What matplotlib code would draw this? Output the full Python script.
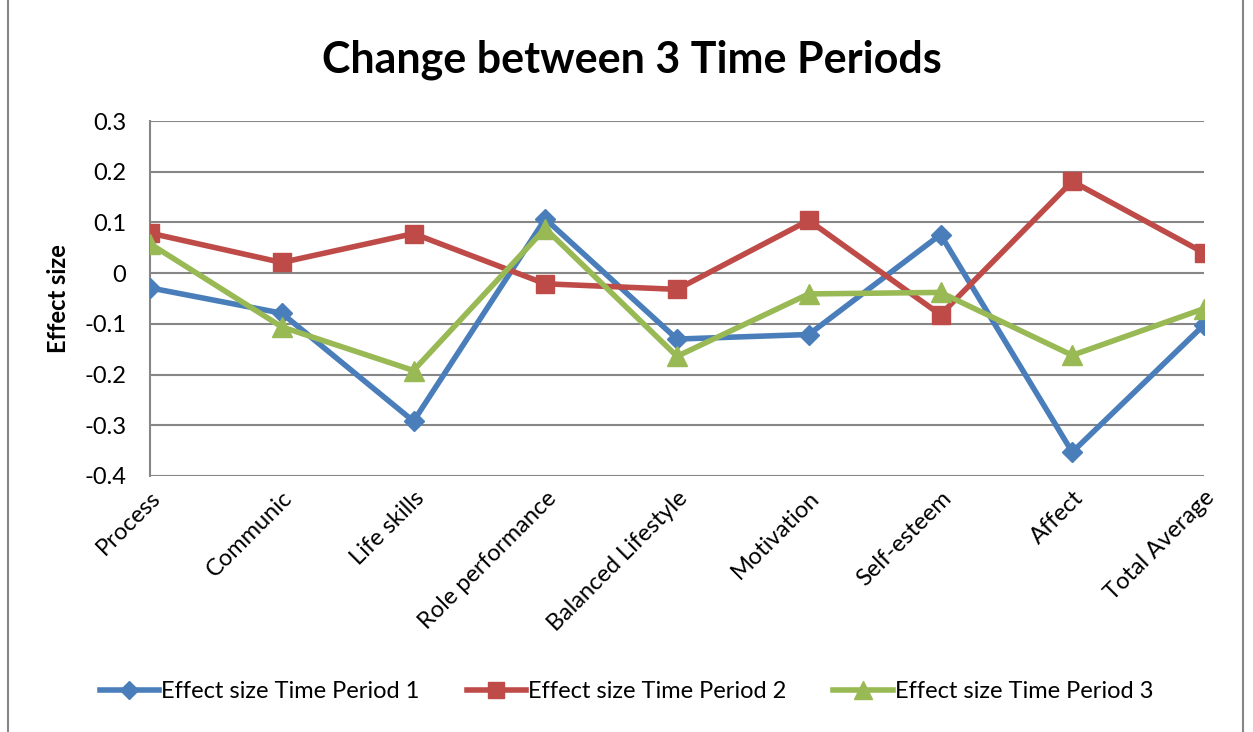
import matplotlib
matplotlib.use("Agg")
import matplotlib.pyplot as plt
from matplotlib.patches import Rectangle

categories = ["Process", "Communic", "Life skills", "Role performance", "Balanced Lifestyle",
              "Motivation", "Self-esteem", "Affect", "Total Average"]
period1 = [-0.029, -0.079, -0.292, 0.107, -0.130, -0.121, 0.076, -0.353, -0.102]
period2 = [0.079, 0.021, 0.078, -0.021, -0.032, 0.104, -0.082, 0.181, 0.040]
period3 = [0.058, -0.106, -0.192, 0.088, -0.164, -0.041, -0.038, -0.162, -0.070]
series_names = ["Effect size Time Period 1", "Effect size Time Period 2", "Effect size Time Period 3"]
yticks = [0.3, 0.2, 0.1, 0, -0.1, -0.2, -0.3, -0.4]

plt.rcParams['font.family'] = ['Lato', 'DejaVu Sans']

fig = plt.figure(figsize=(12.53, 7.32), dpi=100)
ax = fig.add_axes([150/1253, 1-476/732, (1204-150)/1253, (476-121)/732])

x = list(range(len(categories)))
ax.plot(x, period1, color='#4A7EBB', lw=4, marker='D', ms=10, label=series_names[0], zorder=3)
ax.plot(x, period2, color='#BE4B48', lw=4, marker='s', ms=13, label=series_names[1], zorder=3)
ax.plot(x, period3, color='#98B954', lw=4, marker='^', ms=14, label=series_names[2], zorder=3)

ax.set_xlim(0, len(categories) - 1)
ax.set_ylim(-0.4, 0.3)
ax.set_yticks(yticks)
ax.set_yticklabels([f"{v:g}" for v in yticks], fontsize=17)
ax.yaxis.grid(True, color='#868686', lw=1.5)
ax.set_axisbelow(True)
for s in ['top', 'right', 'bottom']:
    ax.spines[s].set_visible(False)
ax.spines['left'].set_color('#868686')
ax.spines['left'].set_linewidth(1.5)
ax.tick_params(axis='y', length=0, pad=17)
ax.tick_params(axis='x', length=0, pad=8)
ax.set_xticks(x)
ax.set_xticklabels(categories, rotation=45, ha='right', rotation_mode='anchor', fontsize=17)
ax.set_ylabel("Effect size", fontsize=17, fontweight='bold', labelpad=10)

fig.text(632/1253, 1-60/732, "Change between 3 Time Periods", ha='center', va='center',
         fontsize=31, fontweight='bold')

leg = fig.legend(loc='center', bbox_to_anchor=(0.5, 1-692/732), ncol=3, frameon=False,
                 fontsize=17, handlelength=2.5, columnspacing=2.0, handletextpad=0.1, markerscale=0.9)

fig.patches.append(Rectangle((8/1253, -0.01), (1243-8)/1253, 1.02, transform=fig.transFigure,
                             fill=False, edgecolor='#868686', lw=1.5))

fig.savefig("out.png", dpi=100)
